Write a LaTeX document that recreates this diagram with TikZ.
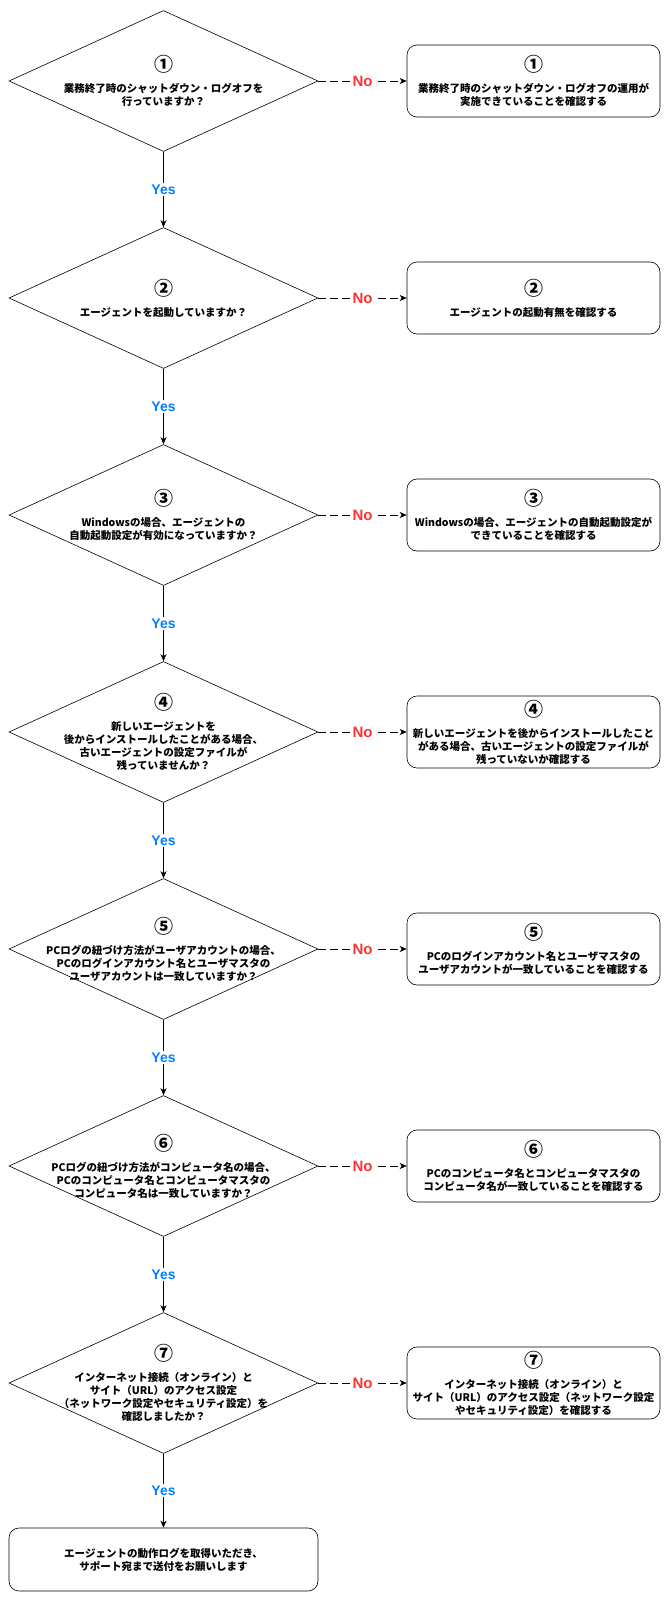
\documentclass[tikz,border=0pt]{standalone}
\usepackage{fontspec}
\setmainfont{Noto Sans CJK JP}
\newfontfamily\lblfont{Liberation Sans}
\usetikzlibrary{shapes.geometric,arrows.meta}
\definecolor{yesblue}{HTML}{007FFF}
\definecolor{nored}{HTML}{FF3333}
\newcommand{\cnum}[1]{{\fontsize{19}{20}\selectfont #1}}

\begin{document}
\begin{tikzpicture}[x=1pt, y=-1pt,
        decision/.style={diamond, draw, line width=0.6pt, minimum width=309pt, minimum height=141pt, inner sep=0pt},
        check/.style={rectangle, rounded corners=10pt, draw, line width=0.6pt, minimum width=253pt, minimum height=72pt, inner sep=0pt, align=center, font=\fontsize{10.5}{13}\selectfont\bfseries},
        qtext/.style={align=center, font=\fontsize{10.5}{13}\selectfont\bfseries},
        yes/.style={fill=white, text=yesblue, inner sep=1.5pt, font=\lblfont\fontsize{14}{14}\selectfont\bfseries},
        no/.style={fill=white, text=nored, inner sep=1.5pt, font=\lblfont\fontsize{15}{15}\selectfont\bfseries},
        arrow/.style={-{Stealth[length=7pt, width=6pt, inset=2pt]}, line width=0.7pt},
        noarrow/.style={arrow, dash pattern=on 8pt off 4pt}
    ]
    \useasboundingbox (0,0) rectangle (670,1601);
    % Questions
    \node[decision] (D1) at (163.5, 81) {};
    \node[decision] (D2) at (163.5, 298) {};
    \node[decision] (D3) at (163.5, 515) {};
    \node[decision] (D4) at (163.5, 732) {};
    \node[decision] (D5) at (163.5, 949) {};
    \node[decision] (D6) at (163.5, 1166) {};
    \node[decision] (D7) at (163.5, 1383) {};
    \node[qtext] (Q1) at (D1) {\cnum{①}\\[8pt]業務終了時のシャットダウン・ログオフを\\行っていますか？};
    \node[qtext] (Q2) at (D2) {\cnum{②}\\[8pt]エージェントを起動していますか？};
    \node[qtext] (Q3) at (D3) {\cnum{③}\\[8pt]Windowsの場合、エージェントの\\自動起動設定が有効になっていますか？};
    \node[qtext] (Q4) at (D4) {\cnum{④}\\[8pt]新しいエージェントを\\後からインストールしたことがある場合、\\古いエージェントの設定ファイルが\\残っていませんか？};
    \node[qtext] (Q5) at (D5) {\cnum{⑤}\\[8pt]PCログの紐づけ方法がユーザアカウントの場合、\\PCのログインアカウント名とユーザマスタの\\ユーザアカウントは一致していますか？};
    \node[qtext] (Q6) at (D6) {\cnum{⑥}\\[8pt]PCログの紐づけ方法がコンピュータ名の場合、\\PCのコンピュータ名とコンピュータマスタの\\コンピュータ名は一致していますか？};
    \node[qtext] (Q7) at (D7) {\cnum{⑦}\\[8pt]インターネット接続（オンライン）と\\サイト（URL）のアクセス設定\\（ネットワーク設定やセキュリティ設定）を\\確認しましたか？};
    % Checks
    \node[check] (C1) at (533.5, 81) {\cnum{①}\\[8pt]業務終了時のシャットダウン・ログオフの運用が\\実施できていることを確認する};
    \node[check] (C2) at (533.5, 298) {\cnum{②}\\[8pt]エージェントの起動有無を確認する};
    \node[check] (C3) at (533.5, 515) {\cnum{③}\\[8pt]Windowsの場合、エージェントの自動起動設定が\\できていることを確認する};
    \node[check] (C4) at (533.5, 732) {\cnum{④}\\[8pt]新しいエージェントを後からインストールしたこと\\がある場合、古いエージェントの設定ファイルが\\残っていないか確認する};
    \node[check] (C5) at (533.5, 949) {\cnum{⑤}\\[8pt]PCのログインアカウント名とユーザマスタの\\ユーザアカウントが一致していることを確認する};
    \node[check] (C6) at (533.5, 1166) {\cnum{⑥}\\[8pt]PCのコンピュータ名とコンピュータマスタの\\コンピュータ名が一致していることを確認する};
    \node[check] (C7) at (533.5, 1383) {\cnum{⑦}\\[8pt]インターネット接続（オンライン）と\\サイト（URL）のアクセス設定（ネットワーク設定\\やセキュリティ設定）を確認する};
    \node[check, minimum width=309pt, minimum height=63pt] (E) at (163.5, 1559.5) {エージェントの動作ログを取得いただき、\\サポート宛まで送付をお願いします};
    % Yes edges
    \draw[arrow] (D1) -- node[yes] {Yes} (D2);
    \draw[arrow] (D2) -- node[yes] {Yes} (D3);
    \draw[arrow] (D3) -- node[yes] {Yes} (D4);
    \draw[arrow] (D4) -- node[yes] {Yes} (D5);
    \draw[arrow] (D5) -- node[yes] {Yes} (D6);
    \draw[arrow] (D6) -- node[yes] {Yes} (D7);
    \draw[arrow] (D7) -- node[yes] {Yes} (E);
    % No edges
    \draw[noarrow] (D1) -- node[no] {No} (C1);
    \draw[noarrow] (D2) -- node[no] {No} (C2);
    \draw[noarrow] (D3) -- node[no] {No} (C3);
    \draw[noarrow] (D4) -- node[no] {No} (C4);
    \draw[noarrow] (D5) -- node[no] {No} (C5);
    \draw[noarrow] (D6) -- node[no] {No} (C6);
    \draw[noarrow] (D7) -- node[no] {No} (C7);
\end{tikzpicture}
\end{document}
